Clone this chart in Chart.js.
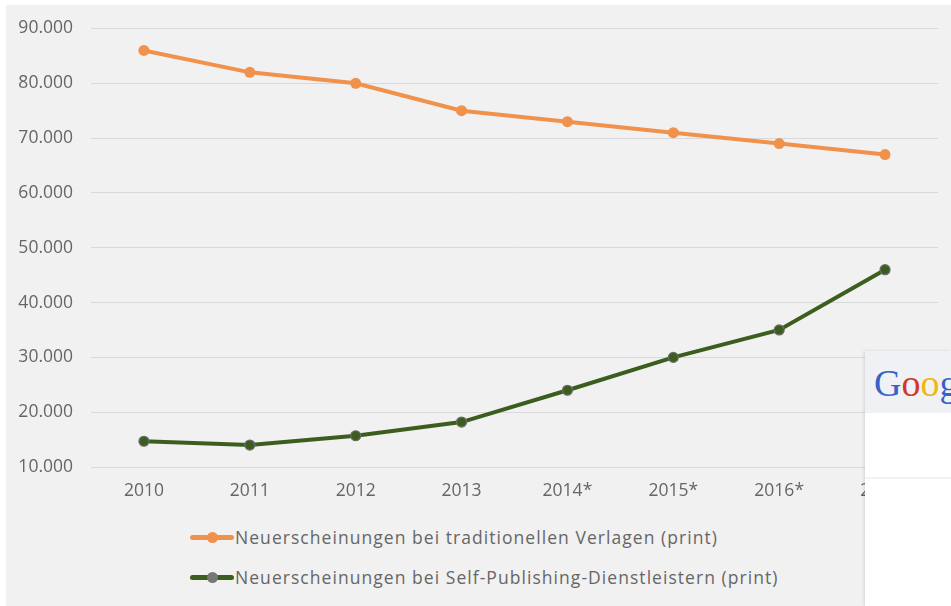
<!DOCTYPE html>
<html lang="de">
<head>
<meta charset="UTF-8">
<title>Neuerscheinungen print</title>
<script src="https://cdn.jsdelivr.net/npm/chart.js"></script>
<style>
    body { margin: 0; background: #fff; font-family: "Open Sans", sans-serif; }
    #wrap { position: absolute; left: 6px; top: 5px; right: 0; bottom: 0; width: 945px; height: 601px; background: #f1f1f1; }
    #box { position: absolute; left: 0; top: 0; width: 951px; height: 507px; }
    #legende { position: absolute; left: 190px; top: 517px; }
    .eintrag { height: 40px; display: flex; align-items: center; font-size: 17.5px; letter-spacing: 1.05px; color: #666; }
    .marker { position: relative; width: 44px; height: 12px; margin-right: 1px; }
    .marker .linie { position: absolute; left: 0; right: 0; top: 4px; height: 5px; border-radius: 3px; }
    .marker .punkt { position: absolute; left: 17px; top: 1px; width: 11px; height: 11px; border-radius: 50%; }
    #google { position: absolute; left: 865px; top: 351px; width: 86px; height: 255px; background: #fff; box-shadow: -1px 0 3px rgba(0,0,0,0.12); overflow: hidden; }
    #google .kopf { height: 62px; background: #f0f1f5; font-family: "Liberation Serif", serif; font-size: 38px; padding: 10px 0 0 9px; box-sizing: border-box; white-space: nowrap; }
    #google .strich { position: absolute; left: 0; right: 0; top: 126px; height: 2px; background: #f2f2f2; }
</style>
</head>
<body>
<div id="wrap"></div>
<div id="box"><canvas id="grafik"></canvas></div>
<div id="legende"></div>
<div id="google">
    <div class="kopf"><span style="color:#3a62c6">G</span><span style="color:#cf3a2d">o</span><span style="color:#f0b70f">o</span><span style="color:#3a62c6">g</span><span style="color:#3aa757">l</span><span style="color:#cf3a2d">e</span></div>
    <div class="strich"></div>
</div>
<script>
    // Jahre (x-Achse)
    const jahre = ["2010", "2011", "2012", "2013", "2014*", "2015*", "2016*", "2017*"];
    // Neuerscheinungen
    const verlage = [86000, 82000, 80000, 75000, 73000, 71000, 69000, 67000];
    const selfPublishing = [14700, 14000, 15700, 18200, 24000, 30000, 35000, 46000];
    const serienNamen = [
        "Neuerscheinungen bei traditionellen Verlagen (print)",
        "Neuerscheinungen bei Self-Publishing-Dienstleistern (print)"
    ];
    const yTicks = [10000, 20000, 30000, 40000, 50000, 60000, 70000, 80000, 90000];

    const orange = "#f0914c";
    const gruen = "#3b5e1f";

    function format(v) {
        return String(v).replace(/\B(?=(\d{3})+(?!\d))/g, ".");
    }

    const ctx = document.getElementById("grafik").getContext("2d");
    const grafik = new Chart(ctx, {
        type: "line",
        data: {
            labels: jahre,
            datasets: [
                {
                    label: serienNamen[0],
                    data: verlage,
                    borderColor: orange,
                    backgroundColor: orange,
                    borderWidth: 4,
                    pointRadius: 5.5,
                    pointBackgroundColor: orange,
                    pointBorderColor: orange,
                    pointBorderWidth: 0,
                    tension: 0
                },
                {
                    label: serienNamen[1],
                    data: selfPublishing,
                    borderColor: gruen,
                    backgroundColor: gruen,
                    borderWidth: 4,
                    pointRadius: 5,
                    pointBackgroundColor: gruen,
                    pointBorderColor: "#6b6b6b",
                    pointBorderWidth: 1.2,
                    tension: 0
                }
            ]
        },
        options: {
            responsive: true,
            maintainAspectRatio: false,
            animation: false,
            layout: { padding: { top: 20, right: 13, bottom: 0, left: 0 } },
            plugins: {
                legend: { display: false },
                tooltip: { enabled: false }
            },
            scales: {
                x: {
                    offset: true,
                    grid: { display: false, drawTicks: false },
                    border: { display: false },
                    ticks: { color: "#666", font: { family: "Open Sans", size: 17.5 }, padding: 14, maxRotation: 0 },
                    afterFit: function (scale) { scale.height = 40; }
                },
                y: {
                    min: 10000,
                    max: 90000,
                    afterBuildTicks: function (scale) { scale.ticks = yTicks.map(v => ({ value: v })); },
                    grid: { color: "#d9d9d9", lineWidth: 1, drawTicks: false },
                    border: { display: false },
                    ticks: { color: "#666", font: { family: "Open Sans", size: 17.5 }, padding: 18, callback: v => format(v) },
                    afterFit: function (scale) { scale.width = 91; }
                }
            }
        }
    });

    // Legende unter dem Diagramm
    const legende = document.getElementById("legende");
    grafik.data.datasets.forEach(function (ds, i) {
        const e = document.createElement("div");
        e.className = "eintrag";
        const punktFarbe = i === 1 ? "#777" : ds.borderColor;
        e.innerHTML = '<div class="marker"><div class="linie" style="background:' + ds.borderColor + '"></div>' +
            '<div class="punkt" style="background:' + punktFarbe + '"></div></div>' + ds.label;
        legende.appendChild(e);
    });
</script>
</body>
</html>
